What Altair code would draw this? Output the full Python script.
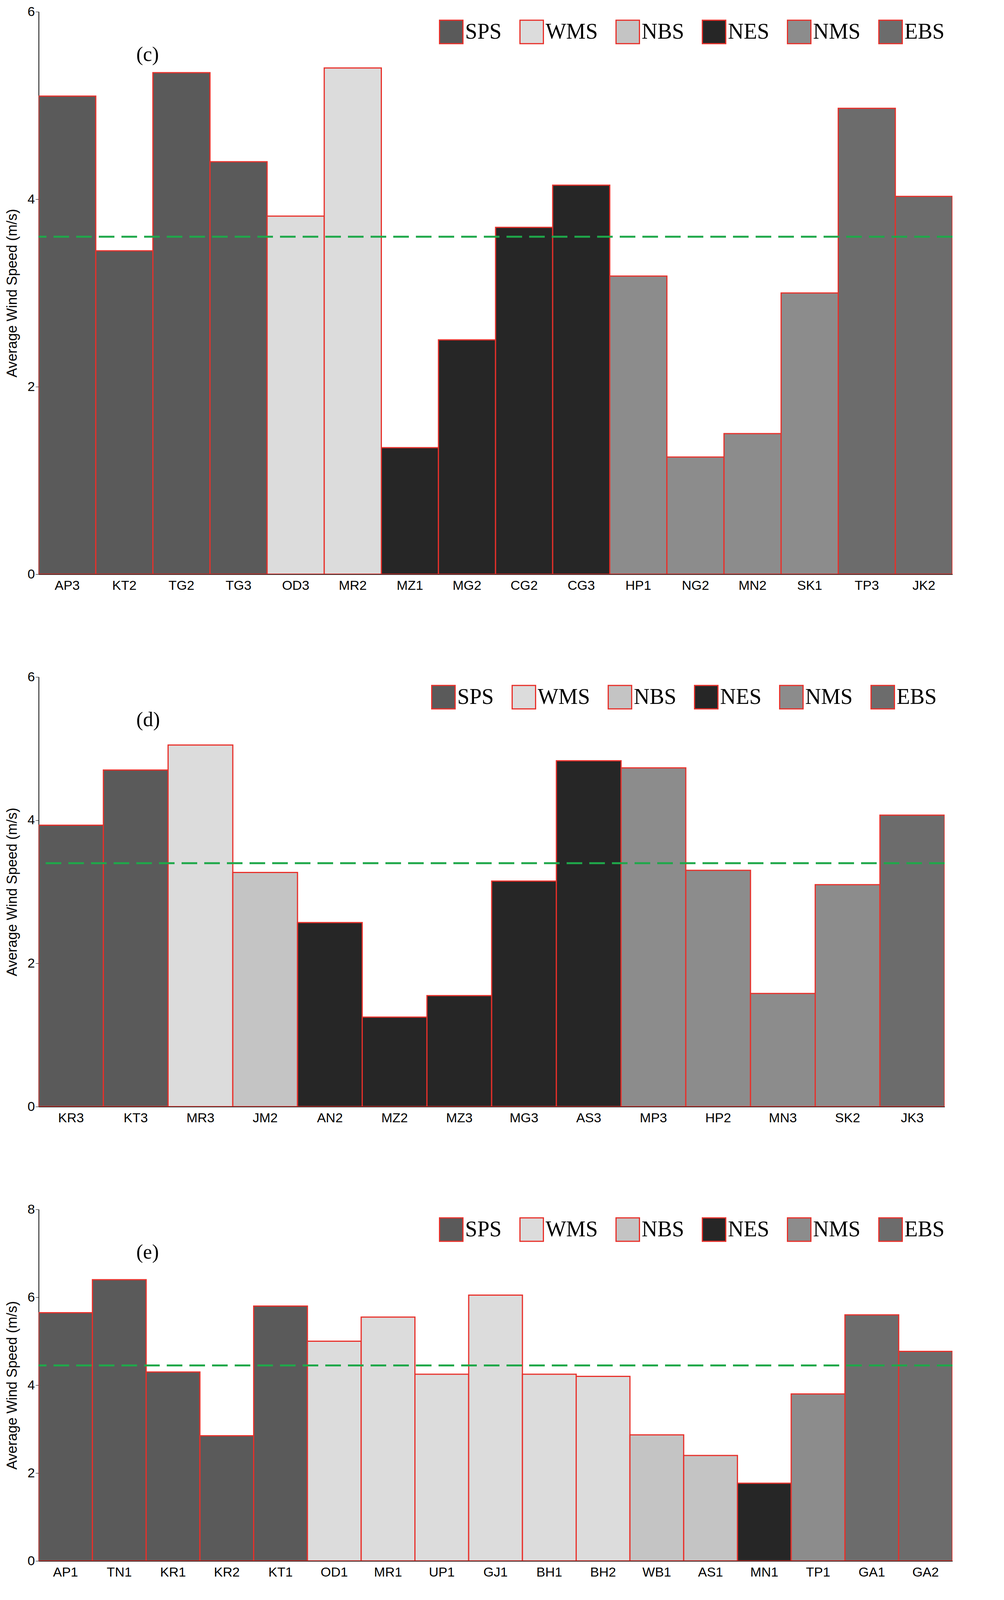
import altair as alt
import pandas as pd

groups = ["SPS", "WMS", "NBS", "NES", "NMS", "EBS"]
group_colors = ["#5a5a5a", "#dcdcdc", "#c4c4c4", "#262626", "#8c8c8c", "#6c6c6c"]

# panel (c)
c_sites = ["AP3", "KT2", "TG2", "TG3", "OD3", "MR2", "MZ1", "MG2", "CG2", "CG3",
           "HP1", "NG2", "MN2", "SK1", "TP3", "JK2"]
c_speed = [5.1, 3.45, 5.35, 4.4, 3.82, 5.4, 1.35, 2.5, 3.7, 4.15,
           3.18, 1.25, 1.5, 3.0, 4.97, 4.03]
c_group = ["SPS"] * 4 + ["WMS"] * 2 + ["NES"] * 4 + ["NMS"] * 4 + ["EBS"] * 2
c_mean = 3.6

# panel (d)
d_sites = ["KR3", "KT3", "MR3", "JM2", "AN2", "MZ2", "MZ3", "MG3", "AS3",
           "MP3", "HP2", "MN3", "SK2", "JK3"]
d_speed = [3.93, 4.7, 5.05, 3.27, 2.57, 1.25, 1.55, 3.15, 4.83,
           4.73, 3.3, 1.58, 3.1, 4.07]
d_group = ["SPS"] * 2 + ["WMS", "NBS"] + ["NES"] * 5 + ["NMS"] * 4 + ["EBS"]
d_mean = 3.4

# panel (e)
e_sites = ["AP1", "TN1", "KR1", "KR2", "KT1", "OD1", "MR1", "UP1", "GJ1", "BH1",
           "BH2", "WB1", "AS1", "MN1", "TP1", "GA1", "GA2"]
e_speed = [5.65, 6.4, 4.3, 2.85, 5.8, 5.0, 5.55, 4.25, 6.05, 4.25,
           4.2, 2.87, 2.4, 1.77, 3.8, 5.6, 4.77]
e_group = ["SPS"] * 5 + ["WMS"] * 6 + ["NBS"] * 2 + ["NES", "NMS", "EBS", "EBS"]
e_mean = 4.45


def panel(label, sites, speed, group, mean, ymax, w, h):
    df = pd.DataFrame({"site": sites, "speed": speed, "group": group})
    x = alt.X("site:N", sort=sites, title=None,
              scale=alt.Scale(paddingInner=0, paddingOuter=0),
              axis=alt.Axis(labelAngle=0, labelFontSize=34, labelPadding=12,
                            ticks=False, domainColor="black", domainWidth=2))
    y = alt.Y("speed:Q", title="Average  Wind Speed (m/s)",
              scale=alt.Scale(domain=[0, ymax], clamp=True),
              axis=alt.Axis(values=list(range(0, ymax + 1, 2)), format="d", grid=False,
                            labelFontSize=34, titleFontSize=36, titleFontWeight="normal",
                            titlePadding=20, domainColor="black", domainWidth=2,
                            tickColor="black", tickSize=8))
    bars = alt.Chart(df).mark_bar(stroke="#e8302a", strokeWidth=3, clip=True).encode(
        x=x, y=y,
        color=alt.Color("group:N", scale=alt.Scale(domain=groups, range=group_colors),
                        legend=alt.Legend(title=None, orient="top-right", direction="horizontal",
                                          labelFont="Liberation Serif", labelFontSize=56,
                                          symbolType="square", symbolSize=3600,
                                          symbolStrokeColor="#e8302a", symbolStrokeWidth=3,
                                          columnPadding=40, offset=20)),
    )
    mdf = pd.DataFrame({"mean": [mean]})
    line = alt.Chart(mdf).mark_rule(color="#1fa84a", strokeWidth=5, strokeDash=[40, 18]).encode(
        y=alt.Y("mean:Q"))
    ldf = pd.DataFrame({"t": [label]})
    txt = alt.Chart(ldf).mark_text(font="Liberation Serif", fontSize=52, align="left").encode(
        text="t:N", x=alt.value(250), y=alt.value(110))
    return alt.layer(bars, line, txt).properties(width=w, height=h)


chart = alt.vconcat(
    panel("(c)", c_sites, c_speed, c_group, c_mean, 6, 2340, 1440),
    panel("(d)", d_sites, d_speed, d_group, d_mean, 6, 2320, 1100),
    panel("(e)", e_sites, e_speed, e_group, e_mean, 8, 2340, 900),
    spacing=200,
).resolve_scale(color="independent").configure_view(stroke=None).configure_axis(
    labelFont="Liberation Sans", titleFont="Liberation Sans", labelColor="black", titleColor="black"
).properties(background="white")

chart.save("out.html", embed_options={"renderer": "svg", "actions": False})
